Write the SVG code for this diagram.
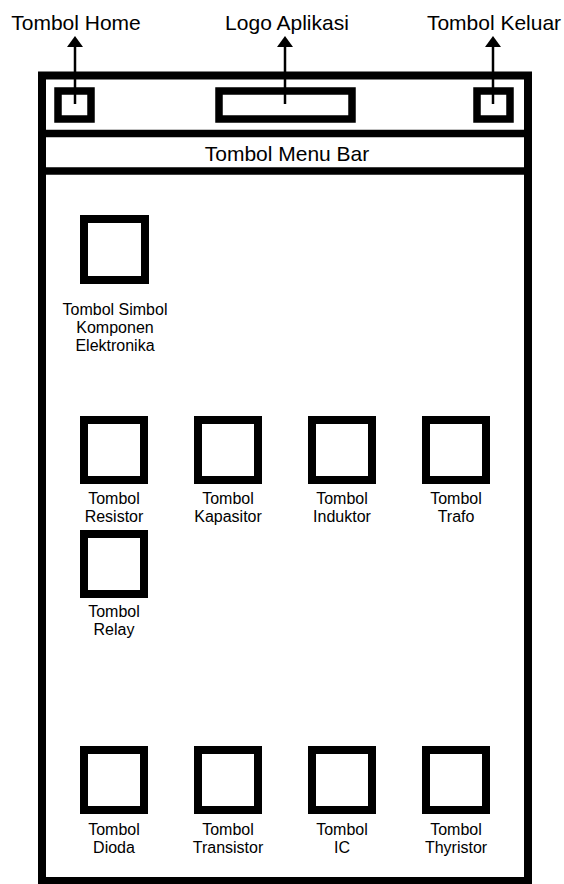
<svg xmlns="http://www.w3.org/2000/svg" width="564" height="884" viewBox="0 0 564 884">
<style>
.frame{fill:none;stroke:#000;stroke-width:8}
.sep{stroke:#000;stroke-width:7.5}
.btn{fill:#fff;stroke:#000;stroke-width:7.5}
.sq{fill:#fff;stroke:#000;stroke-width:8}
.conn{stroke:#000;stroke-width:2.5;fill:none}
text{font-family:"Liberation Sans",Arial,sans-serif;fill:#000;text-anchor:middle}
.big{font-size:21px}
.sm{font-size:16px}
</style>
<defs>
<marker id="ah" markerUnits="userSpaceOnUse" markerWidth="11" markerHeight="16" viewBox="0 0 11 16" refX="0" refY="8" orient="auto">
<path d="M0,0 L11,8 L0,16 z" fill="#000"/>
</marker>
</defs>
<rect width="564" height="884" fill="#fff"/>
<g id="frame">
<rect class="frame" x="42" y="75.5" width="486" height="805.5"/>
<line class="sep" x1="42" y1="133.5" x2="528" y2="133.5"/>
<line class="sep" x1="42" y1="171" x2="528" y2="171"/>
</g>
<g id="home"><rect class="btn" x="58" y="91" width="33" height="28"/></g>
<g id="logo"><rect class="btn" x="219" y="91" width="133" height="28"/></g>
<g id="keluar"><rect class="btn" x="477" y="91" width="33" height="28"/></g>
<g id="menubar"><text class="big" x="287" y="160.5">Tombol Menu Bar</text></g>
<g id="connectors">
<line class="conn" x1="75" y1="104" x2="75" y2="47" marker-end="url(#ah)"/>
<line class="conn" x1="285" y1="104" x2="285" y2="47" marker-end="url(#ah)"/>
<line class="conn" x1="493" y1="104" x2="493" y2="47" marker-end="url(#ah)"/>
</g>
<g id="lbl-home"><text class="big" x="76" y="30">Tombol Home</text></g>
<g id="lbl-logo"><text class="big" x="287" y="30">Logo Aplikasi</text></g>
<g id="lbl-keluar"><text class="big" x="494" y="30">Tombol Keluar</text></g>
<g id="simbol">
<rect class="sq" x="84" y="219" width="61" height="61"/>
<text class="sm" x="115" y="315">Tombol Simbol</text>
<text class="sm" x="115" y="333">Komponen</text>
<text class="sm" x="115" y="351">Elektronika</text>
</g>
<g id="resistor">
<rect class="sq" x="84" y="420" width="60" height="60"/>
<text class="sm" x="114" y="504">Tombol</text><text class="sm" x="114" y="522">Resistor</text>
</g>
<g id="kapasitor">
<rect class="sq" x="198" y="420" width="60" height="60"/>
<text class="sm" x="228" y="504">Tombol</text><text class="sm" x="228" y="522">Kapasitor</text>
</g>
<g id="induktor">
<rect class="sq" x="312" y="420" width="60" height="60"/>
<text class="sm" x="342" y="504">Tombol</text><text class="sm" x="342" y="522">Induktor</text>
</g>
<g id="trafo">
<rect class="sq" x="426" y="420" width="60" height="60"/>
<text class="sm" x="456" y="504">Tombol</text><text class="sm" x="456" y="522">Trafo</text>
</g>
<g id="relay">
<rect class="sq" x="84" y="534" width="60" height="60"/>
<text class="sm" x="114" y="617">Tombol</text><text class="sm" x="114" y="635">Relay</text>
</g>
<g id="dioda">
<rect class="sq" x="84" y="750" width="60" height="60"/>
<text class="sm" x="114" y="835">Tombol</text><text class="sm" x="114" y="853">Dioda</text>
</g>
<g id="transistor">
<rect class="sq" x="198" y="750" width="60" height="60"/>
<text class="sm" x="228" y="835">Tombol</text><text class="sm" x="228" y="853">Transistor</text>
</g>
<g id="ic">
<rect class="sq" x="312" y="750" width="60" height="60"/>
<text class="sm" x="342" y="835">Tombol</text><text class="sm" x="342" y="853">IC</text>
</g>
<g id="thyristor">
<rect class="sq" x="426" y="750" width="60" height="60"/>
<text class="sm" x="456" y="835">Tombol</text><text class="sm" x="456" y="853">Thyristor</text>
</g>
</svg>
